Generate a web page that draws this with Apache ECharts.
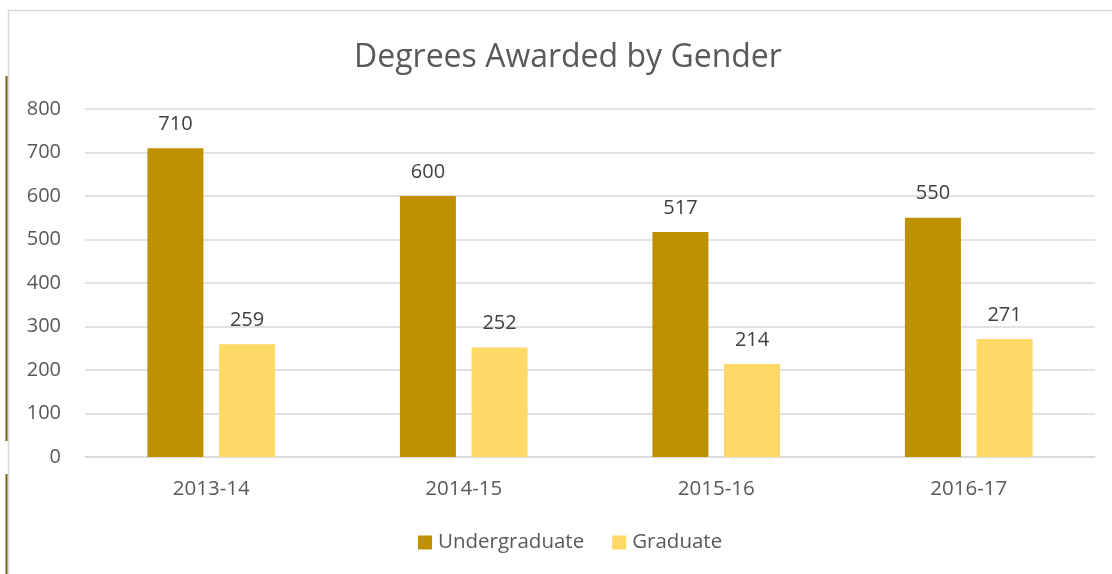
<!DOCTYPE html>
<html>
<head>
<meta charset="utf-8">
<script src="https://cdn.jsdelivr.net/npm/echarts@6/dist/echarts.min.js"></script>
<style>html,body{margin:0;padding:0;background:#fff}#c{width:1112px;height:574px}</style>
</head>
<body>
<div id="c"></div>
<script>
var categories = ['2013-14', '2014-15', '2015-16', '2016-17'];
var undergraduate = [710, 600, 517, 550];
var graduate = [259, 252, 214, 271];
var yTicks = [0, 100, 200, 300, 400, 500, 600, 700, 800];

var font = '"Open Sans", "Noto Sans", sans-serif';
var txt = '#595959';
var chart = echarts.init(document.getElementById('c'));
chart.setOption({
  backgroundColor: '#fff',
  animation: false,
  title: {
    text: 'Degrees Awarded by Gender',
    left: 349, top: 37,
    textStyle: { fontFamily: font, fontSize: 32, fontWeight: 'normal', color: txt }
  },
  legend: {
    bottom: 16, left: 413,
    itemWidth: 14, itemHeight: 14, itemGap: 28,
    icon: 'rect',
    textStyle: { fontFamily: font, fontSize: 20.5, color: txt, padding: [0, 0, 0, 1] },
    data: ['Undergraduate', 'Graduate']
  },
  grid: { left: 85, right: 17, top: 109, bottom: 117 },
  xAxis: {
    type: 'category', data: categories,
    axisLine: { lineStyle: { color: '#d9d9d9', width: 1.5 } },
    axisTick: { show: false },
    axisLabel: { fontFamily: font, fontSize: 20.5, color: txt, margin: 22 }
  },
  yAxis: {
    type: 'value', min: yTicks[0], max: yTicks[yTicks.length - 1], interval: 100,
    axisLine: { show: false }, axisTick: { show: false },
    splitLine: { lineStyle: { color: '#d9d9d9', width: 1.5 } },
    axisLabel: { fontFamily: font, fontSize: 20, color: txt, margin: 24 }
  },
  series: [
    {
      name: 'Undergraduate', type: 'bar', data: undergraduate,
      barWidth: 56, barGap: '28%',
      itemStyle: { color: '#BF9000' },
      label: { show: true, position: 'top', distance: 14, fontFamily: font, fontSize: 20, color: '#404040' }
    },
    {
      name: 'Graduate', type: 'bar', data: graduate,
      barWidth: 56,
      itemStyle: { color: '#FFD966' },
      label: { show: true, position: 'top', distance: 14, fontFamily: font, fontSize: 20, color: '#404040' }
    }
  ],
  graphic: [
    { type: 'line', shape: { x1: 8, y1: 10.5, x2: 1112, y2: 10.5 }, style: { stroke: '#d9d9d9', lineWidth: 1.5 } },
    { type: 'line', shape: { x1: 8.5, y1: 10, x2: 8.5, y2: 574 }, style: { stroke: '#d9d9d9', lineWidth: 1.5 } },
    { type: 'line', shape: { x1: 6.5, y1: 76, x2: 6.5, y2: 441 }, style: { stroke: '#7F6000', lineWidth: 2 } },
    { type: 'line', shape: { x1: 6.5, y1: 474, x2: 6.5, y2: 574 }, style: { stroke: '#7F6000', lineWidth: 2 } }
  ]
});
</script>
</body>
</html>
